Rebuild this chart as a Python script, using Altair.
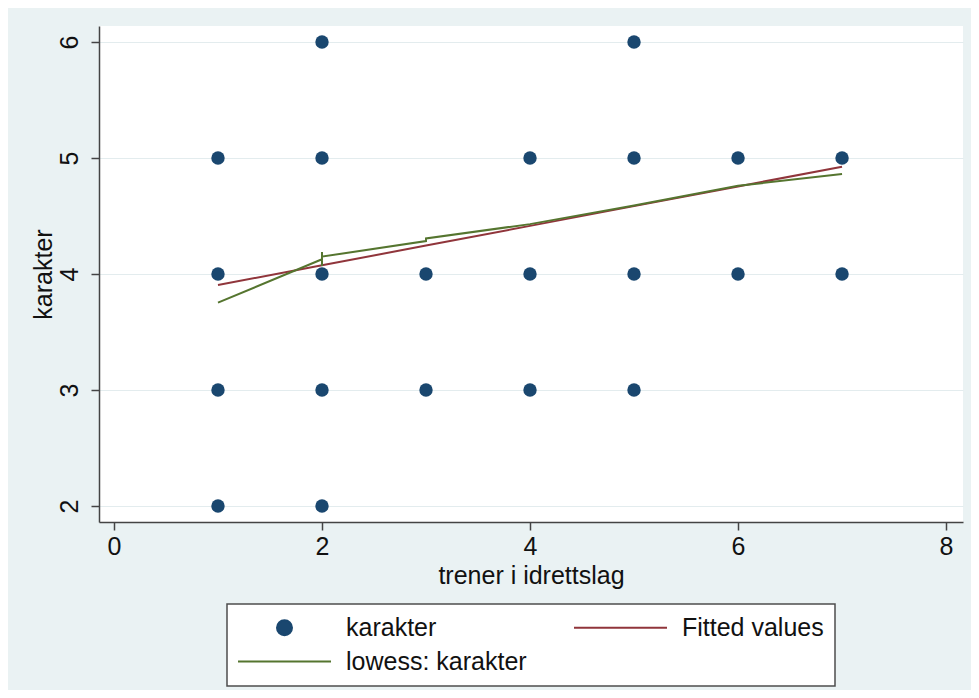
import altair as alt
import pandas as pd

# ---- data ----
obs_x = [1, 1, 1, 1, 2, 2, 2, 2, 2, 3, 3, 4, 4, 4, 5, 5, 5, 5, 6, 6, 7, 7]
obs_y = [5, 4, 3, 2, 6, 5, 4, 3, 2, 4, 3, 5, 4, 3, 6, 5, 4, 3, 5, 4, 5, 4]

fit_x = [1, 2, 3, 4, 5, 6, 7]
fit_y = [3.905, 4.075, 4.245, 4.415, 4.585, 4.755, 4.925]

low_x = [1, 2, 2, 2, 2, 3, 3, 4, 5, 6, 7]
low_y = [3.753, 4.127, 4.19, 4.07, 4.15, 4.284, 4.307, 4.43, 4.59, 4.76, 4.862]

series_names = ["karakter", "Fitted values", "lowess: karakter"]
series_colors = ["#1a476f", "#90353b", "#55752f"]

x_ticks = [0, 2, 4, 6, 8]
y_ticks = [2, 3, 4, 5, 6]

x_title = "trener i idrettslag"
y_title = "karakter"

# ---- tables ----
pts = pd.DataFrame({"x": obs_x, "y": obs_y, "series": series_names[0]})
fit = pd.DataFrame({"x": fit_x, "y": fit_y, "series": series_names[1],
                    "ord": list(range(len(fit_x)))})
low = pd.DataFrame({"x": low_x, "y": low_y, "series": series_names[2],
                    "ord": list(range(len(low_x)))})

FONT = "Liberation Sans"
TXT = "#111111"

xscale = alt.Scale(domain=[-0.144, 8.163], nice=False, zero=False)
yscale = alt.Scale(domain=[1.862, 6.138], nice=False, zero=False)

x_enc = alt.X("x:Q", scale=xscale,
              axis=alt.Axis(values=x_ticks, title=x_title, grid=False,
                            format="d", labelPadding=4, titlePadding=4))
y_enc = alt.Y("y:Q", scale=yscale,
              axis=alt.Axis(values=y_ticks, title=y_title, grid=True,
                            format="d", labelAngle=270, labelAlign="center",
                            labelBaseline="bottom", labelPadding=9,
                            titlePadding=1))

CIRCLE_PATH = "M-0.75,0A0.75,0.75,0,1,1,0.75,0A0.75,0.75,0,1,1,-0.75,0Z"
LINE_PATH = "M-4.65,0H4.65"
first = series_names[0]

legend = alt.Legend(
    title=None, orient="none", legendX=128, legendY=578, columns=2,
    direction="horizontal",
    padding=11, fillColor="white", strokeColor="#4d4d4d",
    labelFont=FONT, labelFontSize=25, labelColor=TXT, labelLimit=400,
    symbolSize=400, symbolStrokeWidth=2, symbolOffset=34, labelOffset=49,
    symbolOpacity=1, columnPadding=43, rowPadding=8,
    symbolType={"expr": f"datum.value === '{first}' ? '{CIRCLE_PATH}' : '{LINE_PATH}'"},
    symbolFillColor={"expr": f"datum.value === '{first}' ? scale('color', datum.value) : 'transparent'"},
    symbolStrokeColor={"expr": f"datum.value === '{first}' ? 'transparent' : scale('color', datum.value)"},
)

color = alt.Color("series:N",
                  scale=alt.Scale(domain=series_names, range=series_colors),
                  legend=legend)

points = alt.Chart(pts).mark_circle(size=180, opacity=1).encode(
    x=x_enc, y=y_enc, color=color)

fit_line = alt.Chart(fit).mark_line(strokeWidth=2).encode(
    x=x_enc, y=y_enc, color=color, order="ord:Q")

low_line = alt.Chart(low).mark_line(strokeWidth=2).encode(
    x=x_enc, y=y_enc, color=color, order="ord:Q")

chart = alt.layer(points, fit_line, low_line).properties(
    width=864, height=496,
    background="#eaf2f3",
    padding={"left": 91, "top": 18, "right": 8, "bottom": 168},
    autosize=alt.AutoSizeParams(type="none"),
).configure_view(
    fill="white", stroke=None
).configure_axis(
    domainColor="#444444", domainWidth=1.5,
    tickColor="#444444", tickWidth=1.5, tickSize=8,
    labelFont=FONT, labelFontSize=25, labelColor=TXT,
    titleFont=FONT, titleFontSize=25, titleColor=TXT, titleFontWeight="normal",
    gridColor="#e3ecee", gridWidth=1.2,
).configure_legend(
    strokeWidth=1.5
)

chart.save("out.html", embed_options={"renderer": "svg", "actions": False})
